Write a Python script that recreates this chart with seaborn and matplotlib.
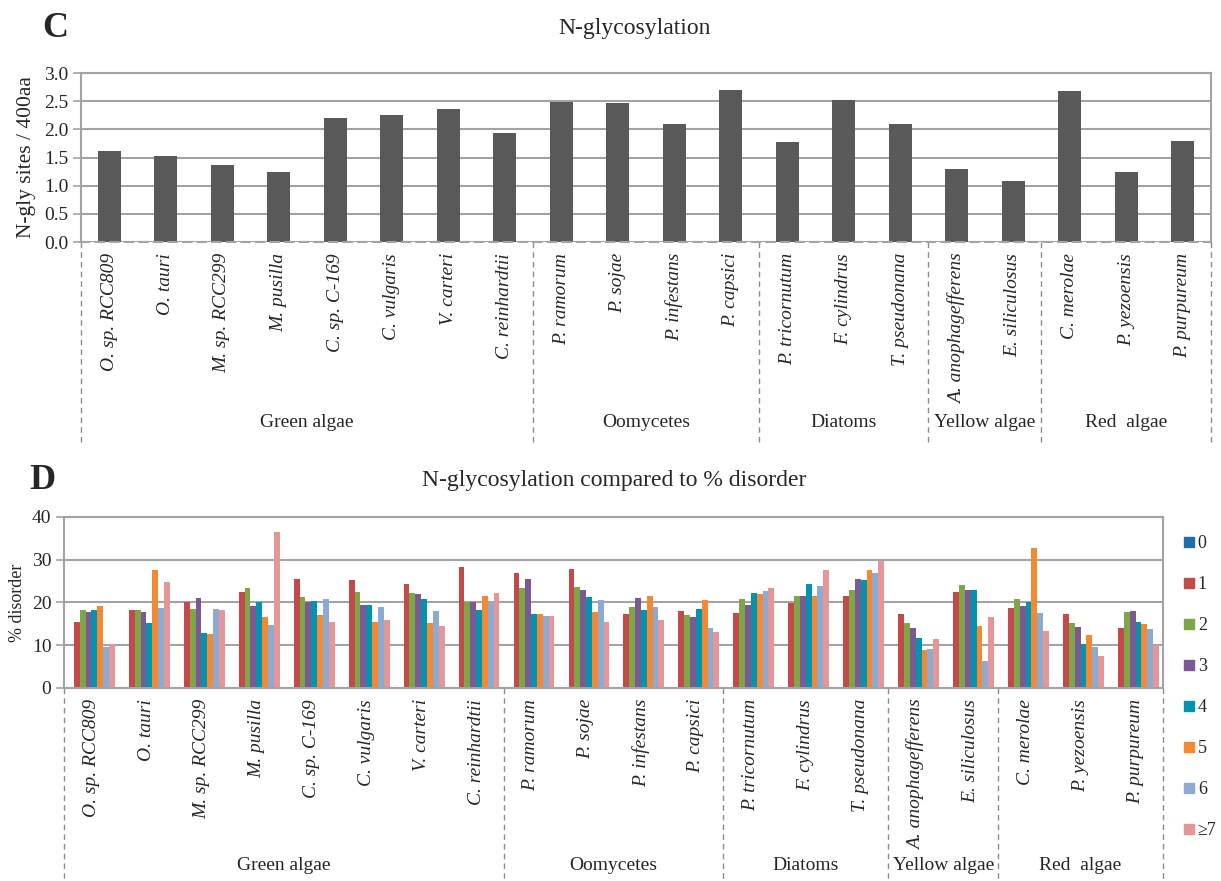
import numpy as np
import pandas as pd
import matplotlib
matplotlib.use("Agg")
import matplotlib.pyplot as plt
import seaborn as sns
from matplotlib.lines import Line2D

sns.set_theme(style="white")
plt.rcParams["font.family"] = ["Liberation Serif", "DejaVu Serif"]

# ---- data ----
species = ["O. sp. RCC809", "O. tauri", "M. sp. RCC299", "M. pusilla", "C. sp. C-169",
           "C. vulgaris", "V. carteri", "C. reinhardtii", "P. ramorum", "P. sojae",
           "P. infestans", "P. capsici", "P. tricornutum", "F. cylindrus", "T. pseudonana",
           "A. anophagefferens", "E. siliculosus", "C. merolae", "P. yezoensis", "P. purpureum"]
groups = ["Green algae", "Oomycetes", "Diatoms", "Yellow algae", "Red  algae"]
group_sizes = [8, 4, 3, 2, 3]

nglyc_sites = [1.62, 1.52, 1.36, 1.25, 2.20, 2.25, 2.36, 1.94, 2.48, 2.47,
               2.09, 2.69, 1.77, 2.53, 2.09, 1.29, 1.08, 2.68, 1.25, 1.80]

site_classes = ["0", "1", "2", "3", "4", "5", "6", "≥7"]
disorder_0 = [0.3, 0.2, 0.2, 0.3, 0.3, 0.3, 0.3, 0.2, 0.3, 0.3,
              0.2, 0.2, 0.2, 0.2, 0.3, 0.2, 0.2, 0.3, 0.2, 0.2]
disorder_1 = [15.5, 18.3, 20.0, 22.5, 25.5, 25.2, 24.3, 28.2, 26.8, 27.9,
              17.2, 18.1, 17.6, 19.9, 21.6, 17.2, 22.4, 18.8, 17.4, 14.0]
disorder_2 = [18.2, 18.2, 18.4, 23.3, 21.3, 22.5, 22.2, 20.1, 23.4, 23.7,
              18.9, 17.1, 20.7, 21.6, 23.0, 15.2, 24.2, 20.8, 15.1, 17.8]
disorder_3 = [17.7, 17.8, 21.1, 19.2, 20.0, 19.5, 21.9, 20.1, 25.5, 22.9,
              21.0, 16.5, 19.4, 21.6, 25.4, 14.1, 22.9, 19.1, 14.2, 18.0]
disorder_4 = [18.2, 15.2, 12.8, 20.1, 20.3, 19.3, 20.9, 18.3, 17.4, 21.3,
              18.2, 18.4, 22.1, 24.4, 25.3, 11.7, 22.9, 20.0, 10.4, 15.4]
disorder_5 = [19.2, 27.6, 12.6, 16.6, 17.1, 15.5, 15.2, 21.4, 17.2, 17.8,
              21.6, 20.6, 22.0, 21.6, 27.5, 8.8, 14.5, 32.8, 12.3, 15.0]
disorder_6 = [9.5, 18.7, 18.4, 14.8, 20.7, 18.9, 18.0, 20.2, 16.9, 20.5,
              18.9, 14.0, 22.8, 23.8, 26.8, 9.0, 6.2, 17.5, 9.5, 13.8]
disorder_7 = [10.3, 24.8, 18.3, 36.4, 15.5, 16.0, 14.4, 22.1, 16.9, 15.4,
              15.9, 13.0, 23.4, 27.5, 29.8, 11.4, 16.6, 13.4, 7.5, 10.1]

class_colors = ["#1F6FAA", "#C3494A", "#7EA546", "#7B5A94",
                "#0094AF", "#F38A33", "#8DAAD3", "#E59697"]

grid_color = "#A3A3A3"

# ---- tables ----
df_c = pd.DataFrame({"species": species, "sites": nglyc_sites})
disorder_series = [disorder_0, disorder_1, disorder_2, disorder_3,
                   disorder_4, disorder_5, disorder_6, disorder_7]
df_d = pd.DataFrame([
    {"species": sp, "cls": cls, "disorder": vals[i]}
    for cls, vals in zip(site_classes, disorder_series)
    for i, sp in enumerate(species)
])

fig = plt.figure(figsize=(12.21, 8.81), dpi=100)
ax_c = fig.add_axes([0.0663, 0.7253, 0.9255, 0.1918])
ax_d = fig.add_axes([0.0524, 0.2191, 0.9001, 0.1941])


def style_axes(ax, ylim, yticks, fmt):
    ax.set_ylim(*ylim)
    ax.set_yticks(yticks)
    ax.set_yticklabels([fmt.format(v) for v in yticks], fontsize=14)
    ax.set_xlim(-0.5, len(species) - 0.5)
    ax.yaxis.grid(True, color=grid_color, linewidth=1.5)
    ax.set_axisbelow(True)
    for s in ax.spines.values():
        s.set_color(grid_color)
        s.set_linewidth(1.5)
    ax.tick_params(axis="y", which="both", left=True, length=6, width=1.2,
                   color=grid_color, pad=3)
    ax.tick_params(axis="x", length=0, pad=8)
    ax.set_xticks(range(len(species)))
    ax.set_xticklabels(species, rotation=90, fontstyle="italic", fontsize=14,
                       va="top", ha="center")
    ax.set_xlabel("")


def group_dividers(ax, line_bottom, label_y):
    trans = ax.get_xaxis_transform()
    edges = np.concatenate([[0], np.cumsum(group_sizes)]) - 0.5
    for e in edges:
        ax.add_line(Line2D([e, e], [0, line_bottom], transform=trans,
                           color="#8C8C8C", linestyle=(0, (4, 3)), linewidth=1.0,
                           clip_on=False))
    for name, a, b in zip(groups, edges[:-1], edges[1:]):
        ax.text((a + b) / 2, label_y, name, transform=trans, ha="center",
                va="center", fontsize=14)


# ---- panel C ----
sns.barplot(data=df_c, x="species", y="sites", color="#595959", width=0.4,
            saturation=1, ax=ax_c, linewidth=0)
style_axes(ax_c, (0, 3.0), np.arange(0, 3.01, 0.5), "{:.1f}")
ax_c.set_ylabel("N-gly sites / 400aa", fontsize=15.5, labelpad=6)
ax_c.spines["bottom"].set_linestyle((0, (4, 3)))
group_dividers(ax_c, -1.19, -1.07)
fig.text(0.52, 0.968, "N-glycosylation", ha="center", va="center", fontsize=17)
fig.text(0.045, 0.968, "C", ha="center", va="center", fontsize=26, fontweight="bold")

# ---- panel D ----
sns.barplot(data=df_d, x="species", y="disorder", hue="cls", hue_order=site_classes,
            palette=class_colors, width=0.85, saturation=1, ax=ax_d, linewidth=0)
style_axes(ax_d, (0, 40), np.arange(0, 41, 10), "{:.0f}")
ax_d.set_ylabel("% disorder", fontsize=13)
group_dividers(ax_d, -1.12, -1.04)
fig.text(0.503, 0.455, "N-glycosylation compared to % disorder", ha="center",
         va="center", fontsize=17)
fig.text(0.035, 0.455, "D", ha="center", va="center", fontsize=26, fontweight="bold")

handles = [Line2D([], [], marker="s", linestyle="none", markersize=7.5,
                  markerfacecolor=c, markeredgecolor=c) for c in class_colors]
ax_d.get_legend().remove()
fig.legend(handles, site_classes, loc="upper left", bbox_to_anchor=(0.961, 0.403),
           frameon=False, fontsize=13, handlelength=0.7, handletextpad=0.15,
           labelspacing=1.33, borderpad=0)

fig.savefig("out.png", dpi=100, facecolor="white")
